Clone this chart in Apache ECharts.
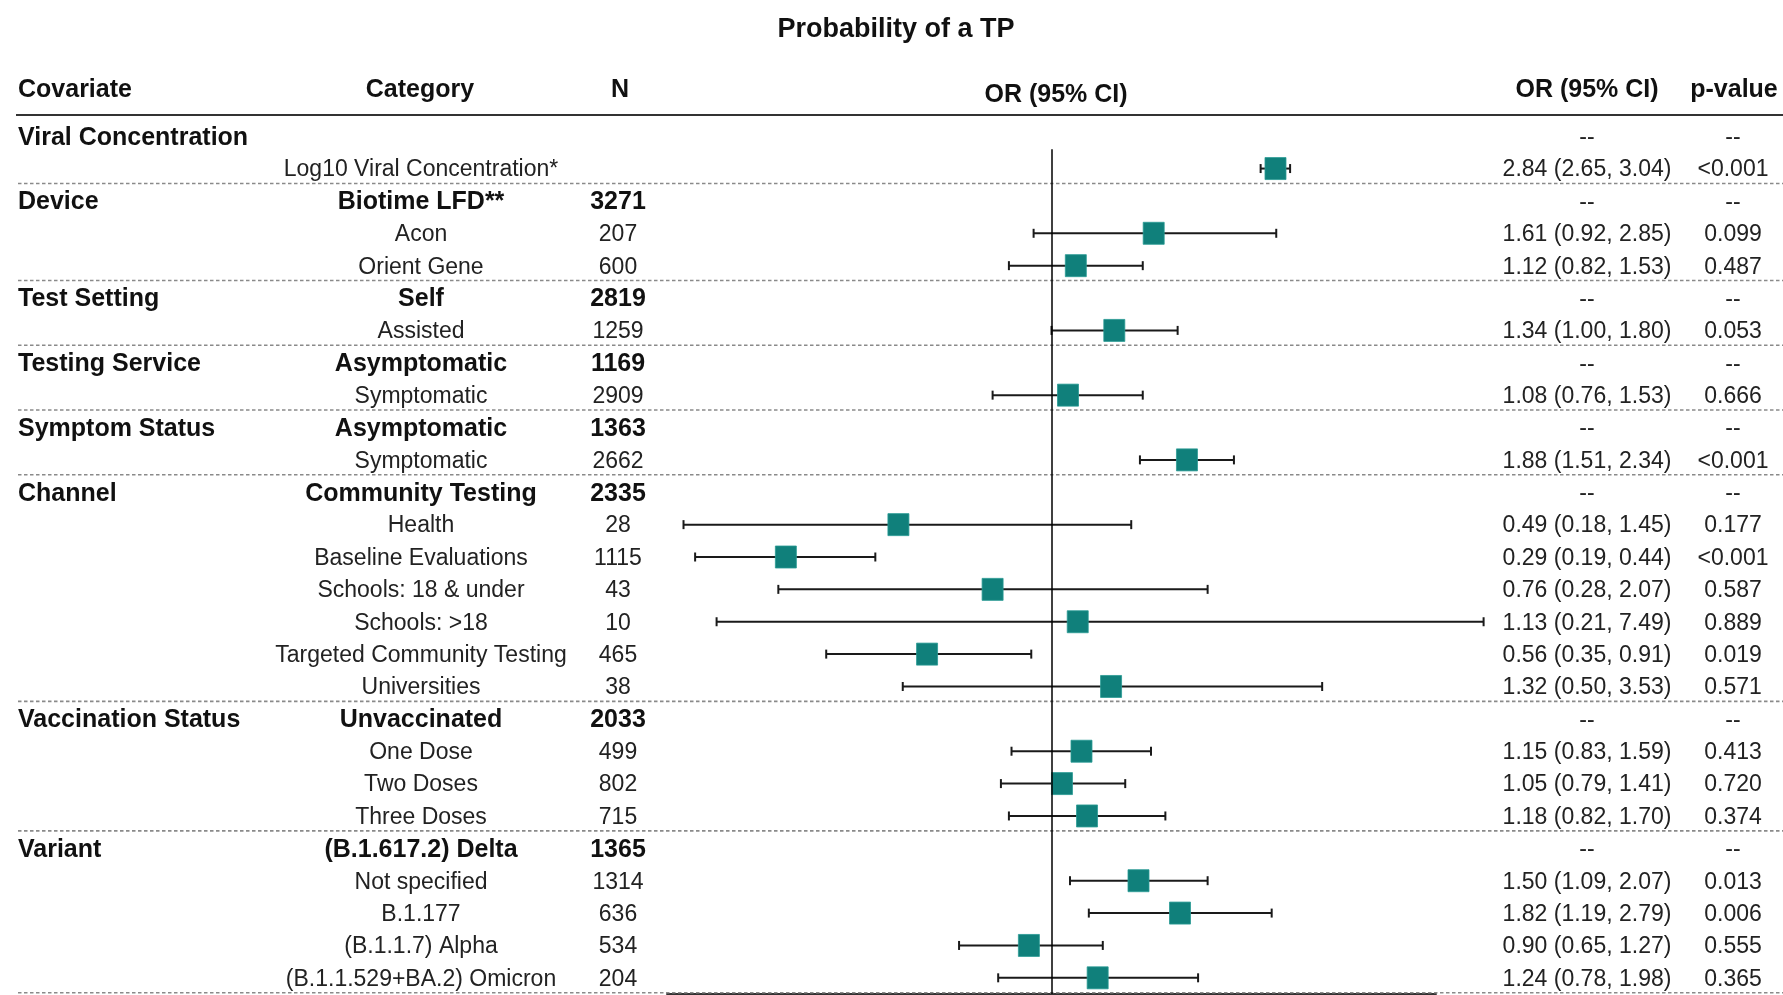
<!DOCTYPE html>
<html><head><meta charset="utf-8">
<script src="https://cdn.jsdelivr.net/npm/echarts@6/dist/echarts.min.js"></script>
<style>html,body{margin:0;padding:0;background:#fff}#c{width:1783px;height:995px}</style>
</head><body><div id="c"></div>
<script>
// ---------- data ----------
const covariates = ['Viral Concentration', '', 'Device', '', '', 'Test Setting', '', 'Testing Service', '', 'Symptom Status', '', 'Channel', '', '', '', '', '', '', 'Vaccination Status', '', '', '', 'Variant', '', '', '', ''];
const categories = ['', 'Log10 Viral Concentration*', 'Biotime LFD**', 'Acon', 'Orient Gene', 'Self', 'Assisted', 'Asymptomatic', 'Symptomatic', 'Asymptomatic', 'Symptomatic', 'Community Testing', 'Health', 'Baseline Evaluations', 'Schools: 18 & under', 'Schools: >18', 'Targeted Community Testing', 'Universities', 'Unvaccinated', 'One Dose', 'Two Doses', 'Three Doses', '(B.1.617.2) Delta', 'Not specified', 'B.1.177', '(B.1.1.7) Alpha', '(B.1.1.529+BA.2) Omicron'];
const nValues = ['', '', '3271', '207', '600', '2819', '1259', '1169', '2909', '1363', '2662', '2335', '28', '1115', '43', '10', '465', '38', '2033', '499', '802', '715', '1365', '1314', '636', '534', '204'];
const oddsRatios = [null, 2.84, null, 1.61, 1.12, null, 1.34, null, 1.08, null, 1.88, null, 0.49, 0.29, 0.76, 1.13, 0.56, 1.32, null, 1.15, 1.05, 1.18, null, 1.50, 1.82, 0.90, 1.24];
const ciLower = [null, 2.65, null, 0.92, 0.82, null, 1.00, null, 0.76, null, 1.51, null, 0.18, 0.19, 0.28, 0.21, 0.35, 0.50, null, 0.83, 0.79, 0.82, null, 1.09, 1.19, 0.65, 0.78];
const ciUpper = [null, 3.04, null, 2.85, 1.53, null, 1.80, null, 1.53, null, 2.34, null, 1.45, 0.44, 2.07, 7.49, 0.91, 3.53, null, 1.59, 1.41, 1.70, null, 2.07, 2.79, 1.27, 1.98];
const pValues = ['--', '<0.001', '--', '0.099', '0.487', '--', '0.053', '--', '0.666', '--', '<0.001', '--', '0.177', '<0.001', '0.587', '0.889', '0.019', '0.571', '--', '0.413', '0.720', '0.374', '--', '0.013', '0.006', '0.555', '0.365'];
const headerLabels = ['Covariate', 'Category', 'N', 'OR (95% CI)', 'OR (95% CI)', 'p-value'];
const titleText = 'Probability of a TP';
const nullEffect = 1;

// ---------- layout / style ----------
const W = 1783;
const FONT = '"Liberation Sans", Arial, sans-serif';
const REG = 23, BOLD = 25;
const TEXT_DY = 1.5;
const ROW_MIN = -0.5, ROW_MAX = categories.length - 0.5;
const GRID_TOP = 120, GRID_BOTTOM = 1;
const COL = { cov: 18, cat: 421, n: 618, or: 1587, p: 1733 };
const TEAL = '#10807b';
const INK = '#1a1a1a';

const forestData = [];
oddsRatios.forEach((v, i) => { if (v != null) forestData.push([v, i, ciLower[i], ciUpper[i]]); });
const tableData = categories.map((c, i) => [0, i]);

function txt(text, x, y, align, bold, size, color) {
  return { type: 'text', silent: true, style: { text, x, y, align, verticalAlign: 'middle',
    fontFamily: FONT, fontSize: size || (bold ? BOLD : REG), fontWeight: bold ? 'bold' : 'normal', fill: color || (bold ? '#111' : '#222') } };
}

function renderTable(params, api) {
  const i = api.value(1);
  const y = api.coord([0, i])[1] + TEXT_DY;
  const isRef = oddsRatios[i] == null;
  const ch = [];
  if (covariates[i]) ch.push(txt(covariates[i], COL.cov, y, 'left', true));
  if (categories[i]) ch.push(txt(categories[i], COL.cat, y, 'center', isRef));
  if (nValues[i]) ch.push(txt(nValues[i], COL.n, y, 'center', isRef));
  const orText = isRef ? '--' : `${oddsRatios[i].toFixed(2)} (${ciLower[i].toFixed(2)}, ${ciUpper[i].toFixed(2)})`;
  ch.push(txt(orText, COL.or, y, 'center', false));
  ch.push(txt(pValues[i], COL.p, y, 'center', false));
  const last = i === categories.length - 1;
  if (last || covariates[i + 1]) {
    const ys = api.coord([0, i + 0.46])[1];
    ch.push({ type: 'line', silent: true, shape: { x1: COL.cov, y1: ys, x2: W, y2: ys },
      style: { stroke: '#8a8a8a', lineWidth: 1.6, lineDash: [3.5, 2.5] } });
  }
  return { type: 'group', children: ch };
}

function renderForest(params, api) {
  const or = api.value(0), row = api.value(1), lo = api.value(2), hi = api.value(3);
  const pO = api.coord([or, row]), pL = api.coord([lo, row]), pH = api.coord([hi, row]);
  const cap = 4.5, bw = 21, bh = 22;
  const ls = { stroke: INK, lineWidth: 2 };
  return { type: 'group', children: [
    { type: 'line', shape: { x1: pL[0], y1: pL[1], x2: pH[0], y2: pH[1] }, style: ls },
    { type: 'line', shape: { x1: pL[0], y1: pL[1] - cap, x2: pL[0], y2: pL[1] + cap }, style: ls },
    { type: 'line', shape: { x1: pH[0], y1: pH[1] - cap, x2: pH[0], y2: pH[1] + cap }, style: ls },
    { type: 'rect', shape: { x: pO[0] - bw / 2, y: pO[1] - bh / 2, width: bw, height: bh }, style: { fill: TEAL, stroke: '#2a9a94', lineWidth: 0.8 } }
  ] };
}

const hid = { show: false };
const chart = echarts.init(document.getElementById('c'), null, { renderer: 'canvas' });
chart.setOption({
  animation: false,
  backgroundColor: '#fff',
  grid: [
    { left: 0, width: W, top: GRID_TOP, bottom: GRID_BOTTOM },
    { left: 667, width: 769, top: GRID_TOP, bottom: GRID_BOTTOM }
  ],
  xAxis: [
    { gridIndex: 0, type: 'value', min: 0, max: W, show: false },
    { gridIndex: 1, type: 'log', min: 1 / 6, max: 6, logBase: 10, position: 'bottom',
      axisLine: { show: true, onZero: false, lineStyle: { color: '#333', width: 2 } },
      axisTick: hid, axisLabel: hid, splitLine: hid }
  ],
  yAxis: [
    { gridIndex: 0, type: 'value', min: ROW_MIN, max: ROW_MAX, inverse: true, show: false },
    { gridIndex: 1, type: 'value', min: ROW_MIN, max: ROW_MAX, inverse: true, show: false }
  ],
  graphic: [
    txt(titleText, 896, 30, 'center', true, 27, '#111'),
    txt(headerLabels[0], COL.cov, 90, 'left', true),
    txt(headerLabels[1], 420, 90, 'center', true),
    txt(headerLabels[2], 620, 90, 'center', true),
    txt(headerLabels[3], 1056, 95, 'center', true),
    txt(headerLabels[4], COL.or, 90, 'center', true),
    txt(headerLabels[5], 1734, 90, 'center', true),
    { type: 'line', silent: true, shape: { x1: 16, y1: 115, x2: W, y2: 115 }, style: { stroke: '#333', lineWidth: 2 } }
  ],
  series: [
    { type: 'custom', xAxisIndex: 0, yAxisIndex: 0, data: tableData, encode: { x: 0, y: 1 },
      renderItem: renderTable, clip: false, silent: true, z: 1 },
    { type: 'custom', xAxisIndex: 1, yAxisIndex: 1, data: forestData, encode: { x: 0, y: 1 },
      renderItem: renderForest, clip: false, silent: true, z: 3,
      markLine: { silent: true, symbol: 'none', label: hid, animation: false,
        lineStyle: { color: '#000', width: 1.5, type: 'solid' },
        data: [[{ coord: [nullEffect, 0.4] }, { coord: [nullEffect, ROW_MAX] }]] } }
  ]
});
</script></body></html>
